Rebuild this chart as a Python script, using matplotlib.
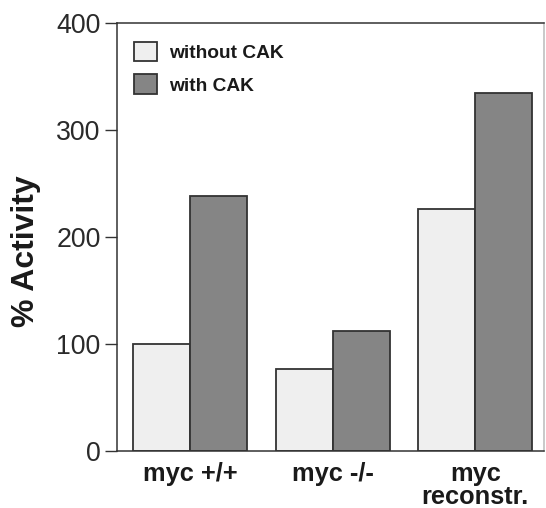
import matplotlib
matplotlib.use("Agg")
import matplotlib.pyplot as plt
import numpy as np

categories = ["myc +/+", "myc -/-", "myc\nreconstr."]
without_cak = [100, 76, 226]
with_cak = [238, 112, 334]
series_labels = ["without CAK", "with CAK"]
yticks = [0, 100, 200, 300, 400]

plt.rcParams['font.family'] = ['Liberation Sans', 'DejaVu Sans']

fig = plt.figure(figsize=(5.46, 5.08), dpi=100)
ax = fig.add_axes([0.215, 0.1128, 0.781, 0.8425])

x = np.arange(len(categories))
w = 0.40
edge = "#333333"
ax.bar(x - w/2, without_cak, w, color="#efefef", edgecolor=edge, linewidth=1.3,
       label=series_labels[0])
ax.bar(x + w/2, with_cak, w, color="#858585", edgecolor=edge, linewidth=1.3,
       label=series_labels[1])

ax.set_xlim(-0.51, 2.48)
ax.set_ylim(0, 400)
ax.set_yticks(yticks)
ax.set_xticks(x)
ax.set_xticklabels(categories, fontsize=18.3, fontweight="bold", color="#1a1a1a",
                   linespacing=0.95)
ax.tick_params(axis="x", length=0, pad=8)
ax.tick_params(axis="y", direction="out", length=8.5, width=1.0, color="#333333",
               labelsize=19.3, labelcolor="#2a2a2a", pad=3.5)
for s in ax.spines.values():
    s.set_color("#333333")
    s.set_linewidth(1.1)
ax.spines["right"].set_color("#bbbbbb")

fig.text(0.0485, 0.506, "% Activity", rotation=90, ha="center", va="center",
         fontsize=23, fontweight="bold", color="#1a1a1a")

leg = ax.legend(loc="upper left", bbox_to_anchor=(0.01, 0.985), frameon=False,
                prop={"weight": "bold", "size": 13.8}, handlelength=1.2,
                handleheight=1.2, handletextpad=0.6, labelspacing=0.65,
                borderaxespad=0.25)
for t in leg.get_texts():
    t.set_color("#1a1a1a")

fig.savefig("out.png", dpi=100)
